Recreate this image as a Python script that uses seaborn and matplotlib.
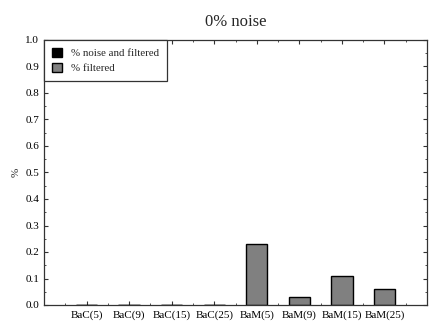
import matplotlib
matplotlib.use("Agg")
import matplotlib.pyplot as plt
from matplotlib.ticker import MultipleLocator
import seaborn as sns
import pandas as pd

categories = ["BaC(5)", "BaC(9)", "BaC(15)", "BaC(25)",
              "BaM(5)", "BaM(9)", "BaM(15)", "BaM(25)"]
noise_and_filtered = [0, 0, 0, 0, 0, 0, 0, 0]
filtered = [0, 0, 0, 0, 0.23, 0.03, 0.11, 0.06]
series_names = ["% noise and filtered", "% filtered"]
series_colors = ["#000000", "#808080"]

df = pd.DataFrame({
    "category": categories * 2,
    "series": [series_names[0]] * len(categories) + [series_names[1]] * len(categories),
    "value": noise_and_filtered + filtered,
})

sns.set_style("ticks")
plt.rcParams["font.family"] = ["Liberation Serif", "DejaVu Serif"]
plt.rcParams["axes.linewidth"] = 0.9

fig = plt.figure(figsize=(4.3, 3.22), dpi=100)
ax = fig.add_axes([44 / 430, 1 - 305 / 322, 383 / 430, 265 / 322])

sns.barplot(data=df, x="category", y="value", hue="series", order=categories,
            hue_order=series_names, palette=series_colors, dodge=False,
            width=0.5, edgecolor="black", linewidth=1.0, saturation=1,
            ax=ax)

ax.set_xlim(-1, 8)
ax.set_ylim(0, 1.0)
ax.set_xlabel("")
ax.set_ylabel("%", fontsize=8, labelpad=3)
ax.set_title("0% noise", fontsize=12, pad=10)

ax.set_yticks([i / 10 for i in range(11)])
ax.set_yticklabels([f"{i / 10:.1f}" for i in range(11)])
ax.yaxis.set_minor_locator(MultipleLocator(0.05))
ax.xaxis.set_minor_locator(MultipleLocator(0.5))

for s in ["top", "right", "left", "bottom"]:
    ax.spines[s].set_visible(True)
    ax.spines[s].set_color("#333333")

ax.tick_params(axis="both", which="both", direction="in", top=True, right=True,
               labelsize=8, colors="#333333", labelcolor="black")
ax.tick_params(axis="both", which="major", length=3, width=0.8)
ax.tick_params(axis="both", which="minor", length=1.5, width=0.6)
ax.tick_params(axis="x", pad=4)

handles, labels = ax.get_legend_handles_labels()
leg = ax.legend(handles, labels, loc="upper left", borderaxespad=0,
                fontsize=7.8, frameon=True, fancybox=False, framealpha=1,
                edgecolor="#333333", handlelength=0.9, handleheight=0.9,
                handletextpad=0.8, borderpad=0.75, labelspacing=0.4)
leg.get_frame().set_linewidth(0.9)

fig.savefig("out.png", dpi=100)
